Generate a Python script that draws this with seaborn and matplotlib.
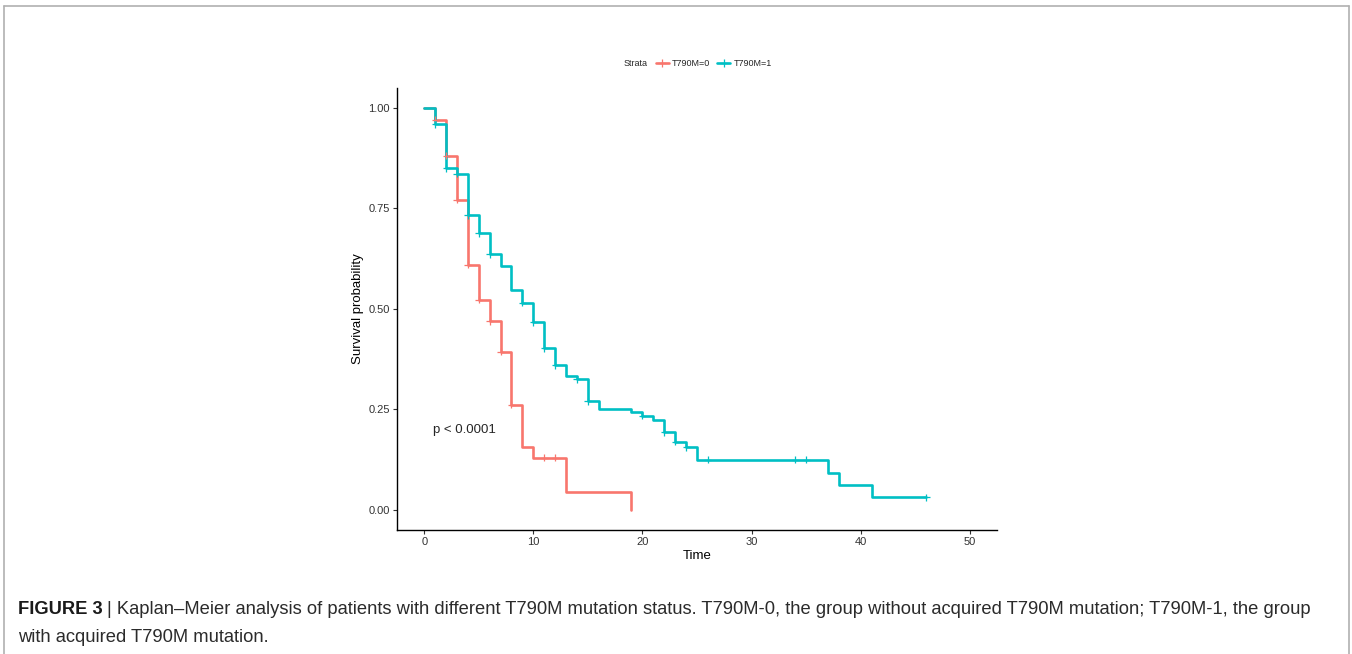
import pandas as pd
import numpy as np
import matplotlib
matplotlib.use("Agg")
import matplotlib.pyplot as plt
from matplotlib.lines import Line2D
import seaborn as sns

# Kaplan-Meier steps (months, survival probability)
time_0 = [0, 1, 2, 3, 4, 5, 6, 7, 8, 9, 10, 13, 19]
surv_0 = [1.0, 0.971, 0.881, 0.772, 0.610, 0.523, 0.469, 0.393, 0.262, 0.156, 0.130, 0.044, 0.0]
cens_0 = [1, 2, 3, 4, 5, 6, 7, 8, 11, 12]

time_1 = [0, 1, 2, 3, 4, 5, 6, 7, 8, 9, 10, 11, 12, 13, 14, 15, 16, 19, 20, 21,
          22, 23, 24, 25, 37, 38, 41, 46]
surv_1 = [1.0, 0.959, 0.850, 0.836, 0.733, 0.688, 0.636, 0.606, 0.546, 0.516,
          0.467, 0.402, 0.360, 0.334, 0.325, 0.270, 0.251, 0.243, 0.234, 0.223,
          0.193, 0.170, 0.156, 0.125, 0.093, 0.062, 0.031, 0.031]
cens_1 = [1, 2, 3, 4, 5, 6, 9, 10, 11, 12, 14, 15, 20, 22, 23, 24, 26, 34, 35, 46]

strata = ["T790M=0", "T790M=1"]
colors = {"T790M=0": "#F8766D", "T790M=1": "#00BFC4"}
pval_text = "p < 0.0001"


def surv_at(times, survs, t):
    idx = np.searchsorted(times, t, side="right") - 1
    return survs[idx]


curves = pd.concat([
    pd.DataFrame({"Time": time_0, "Surv": surv_0, "Strata": strata[0]}),
    pd.DataFrame({"Time": time_1, "Surv": surv_1, "Strata": strata[1]}),
])
censor = pd.concat([
    pd.DataFrame({"Time": cens_0, "Surv": [surv_at(time_0, surv_0, t) for t in cens_0], "Strata": strata[0]}),
    pd.DataFrame({"Time": cens_1, "Surv": [surv_at(time_1, surv_1, t) for t in cens_1], "Strata": strata[1]}),
])

sns.set_style("white")
plt.rcParams["font.family"] = ["Liberation Sans", "DejaVu Sans"]

fig = plt.figure(figsize=(13.52, 6.54), dpi=100)
ax = fig.add_axes([0.2936, 0.1896, 0.4438, 0.676])

sns.lineplot(data=curves, x="Time", y="Surv", hue="Strata", palette=colors,
             drawstyle="steps-post", estimator=None, linewidth=1.9, ax=ax, legend=False)
sns.scatterplot(data=censor, x="Time", y="Surv", hue="Strata", palette=colors,
                marker="+", s=25, linewidth=0.9, ax=ax, legend=False, zorder=3)

ax.set_xlim(-2.5, 52.5)
ax.set_ylim(-0.05, 1.05)
ax.set_xticks([0, 10, 20, 30, 40, 50])
ax.set_yticks([0, 0.25, 0.5, 0.75, 1.0])
ax.set_yticklabels(["0.00", "0.25", "0.50", "0.75", "1.00"])
ax.set_xlabel("Time", fontsize=9.5, color="black", labelpad=2)
ax.set_ylabel("Survival probability", fontsize=9.5, color="black", labelpad=3)
ax.tick_params(axis="both", labelsize=8, colors="#333333", length=3, width=0.8,
               direction="out", left=True, bottom=True, pad=2)
sns.despine(ax=ax)
for s in ["left", "bottom"]:
    ax.spines[s].set_color("black")
    ax.spines[s].set_linewidth(1.0)

ax.text(0.8, 0.2, pval_text, fontsize=9.5, ha="left", va="center")

# legend on top, ggplot-like
handles = [Line2D([0], [0], color=colors[s], lw=1.9, marker="+", markersize=6,
                  markeredgewidth=0.9) for s in strata]
fig.text(624 / 1352, 0.903, "Strata", fontsize=6.5, ha="left", va="center")
fig.legend(handles, strata, loc="center left", bbox_to_anchor=(651 / 1352, 0.903),
           ncol=2, frameon=False, fontsize=6.5, handlelength=1.5, handletextpad=0.35,
           columnspacing=0.7, borderpad=0)

# figure border
for xs, ys in [([0.003, 0.9975], [0.9908, 0.9908]),
               ([0.003, 0.003], [0.0, 0.9908]),
               ([0.9975, 0.9975], [0.0, 0.9908])]:
    fig.add_artist(Line2D(xs, ys, color="#b0b0b0", lw=1.2, transform=fig.transFigure))

# caption
cap_y1 = 1 - 610 / 654
cap_y2 = 1 - 637 / 654
bold = fig.text(18 / 1352, cap_y1, "FIGURE 3", fontsize=13.2, fontweight="bold",
                color="#1a1a1a", ha="left", va="center")
fig.canvas.draw()
bb = bold.get_window_extent(renderer=fig.canvas.get_renderer())
fig.text(bb.x1 / 1352 + 0.003, cap_y1,
         "| Kaplan\u2013Meier analysis of patients with different T790M mutation status. "
         "T790M-0, the group without acquired T790M mutation; T790M-1, the group",
         fontsize=13.2, color="#2b2b2b", ha="left", va="center")
fig.text(18 / 1352, cap_y2, "with acquired T790M mutation.", fontsize=13.2,
         color="#2b2b2b", ha="left", va="center")

fig.savefig("out.png", dpi=100)
